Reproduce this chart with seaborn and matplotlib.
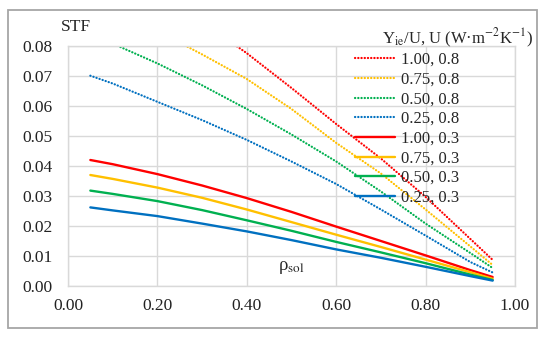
import numpy as np
import pandas as pd
import matplotlib
matplotlib.use("Agg")
import matplotlib.pyplot as plt
import seaborn as sns
from matplotlib.patches import Rectangle

# ρsol values (x axis)
rho = [0.05, 0.10, 0.20, 0.30, 0.40, 0.50, 0.60, 0.70, 0.80, 0.90, 0.95]

# STF, U = 0.8 (dotted); values above 0.08 are cut off by the axis
stf_100_08 = [0.111, 0.107, 0.098, 0.088, 0.0776, 0.066, 0.054, 0.0425, 0.0297, 0.0157, 0.0087]
stf_075_08 = [0.094, 0.091, 0.085, 0.0772, 0.069, 0.059, 0.0477, 0.0375, 0.0255, 0.0132, 0.0070]
stf_050_08 = [0.0835, 0.0808, 0.0742, 0.0669, 0.059, 0.0505, 0.0415, 0.0315, 0.0208, 0.0110, 0.0060]
stf_025_08 = [0.0701, 0.0675, 0.0614, 0.0553, 0.0487, 0.0415, 0.0340, 0.0255, 0.0168, 0.0080, 0.0045]

# STF, U = 0.3 (solid)
stf_100_03 = [0.0420, 0.0406, 0.0373, 0.0335, 0.0293, 0.0247, 0.0198, 0.0150, 0.0102, 0.0053, 0.0030]
stf_075_03 = [0.0370, 0.0357, 0.0328, 0.0294, 0.0255, 0.0213, 0.0171, 0.0130, 0.0088, 0.0046, 0.0024]
stf_050_03 = [0.0318, 0.0307, 0.0283, 0.0253, 0.0219, 0.0184, 0.0147, 0.0112, 0.0076, 0.0038, 0.0020]
stf_025_03 = [0.0262, 0.0252, 0.0233, 0.0208, 0.0182, 0.0153, 0.0122, 0.0094, 0.0064, 0.0033, 0.0018]

labels = ["1.00, 0.8", "0.75, 0.8", "0.50, 0.8", "0.25, 0.8",
          "1.00, 0.3", "0.75, 0.3", "0.50, 0.3", "0.25, 0.3"]
series = [stf_100_08, stf_075_08, stf_050_08, stf_025_08,
          stf_100_03, stf_075_03, stf_050_03, stf_025_03]
colores = ["#FF0000", "#FFC000", "#00B050", "#0070C0"] * 2

sns.set_theme(style="white")
plt.rcParams["font.family"] = ["Liberation Serif", "DejaVu Serif"]
plt.rcParams["mathtext.fontset"] = "stix"

fig = plt.figure(figsize=(5.5, 3.37), dpi=100)
ax = fig.add_axes([68 / 550, 1 - 286 / 337, (515 - 68) / 550, (286 - 46) / 337])

for i, (lab, vals) in enumerate(zip(labels, series)):
    df = pd.DataFrame({"rho": rho, "STF": vals})
    if i < 4:
        sns.lineplot(data=df, x="rho", y="STF", ax=ax, color=colores[i], label=lab,
                     linewidth=1.6, linestyle=(0, (0.1, 1.35)), dash_capstyle="round")
    else:
        sns.lineplot(data=df, x="rho", y="STF", ax=ax, color=colores[i], label=lab,
                     linewidth=1.7)

ax.set_xlim(0, 1)
ax.set_ylim(0, 0.08)
ax.set_xticks(np.arange(0, 1.01, 0.2))
ax.set_yticks(np.arange(0, 0.081, 0.01))
ax.xaxis.set_major_formatter(matplotlib.ticker.FormatStrFormatter("%.2f"))
ax.yaxis.set_major_formatter(matplotlib.ticker.FormatStrFormatter("%.2f"))
ax.tick_params(axis="both", length=0, labelsize=12.5, colors="#222222")
ax.tick_params(axis="y", pad=11)
ax.tick_params(axis="x", pad=9)
ax.set_xlabel("")
ax.set_ylabel("")
ax.grid(True, color="#d9d9d9", linewidth=1)
for s in ax.spines.values():
    s.set_color("#d9d9d9")
    s.set_linewidth(1)

ax.text(0.50, 0.04, "ρ$_{\\rm sol}$", transform=ax.transAxes, fontsize=13.5,
        ha="center", va="bottom")
fig.text(76 / 550, 1 - 27 / 337, "STF", fontsize=12.5, ha="center", va="center")
fig.text(533 / 550, 1 - 38 / 337, r"Y$_{\rm ie}$/U, U (W·m$^{-2}$K$^{-1}$)",
         fontsize=12, ha="right", va="center")

ax.legend(loc="upper left", bbox_to_anchor=(355 / 550, 1 - 52 / 337),
          bbox_transform=fig.transFigure, frameon=False, fontsize=12,
          handlelength=2.4, handletextpad=0.35, labelspacing=0.22,
          borderpad=0, borderaxespad=0)

fig.patches.append(Rectangle((8 / 550, 1 - 328 / 337), 529 / 550, 318 / 337,
                             transform=fig.transFigure, fill=False,
                             edgecolor="#a6a6a6", linewidth=1.3))

fig.savefig("out.png", dpi=100)
